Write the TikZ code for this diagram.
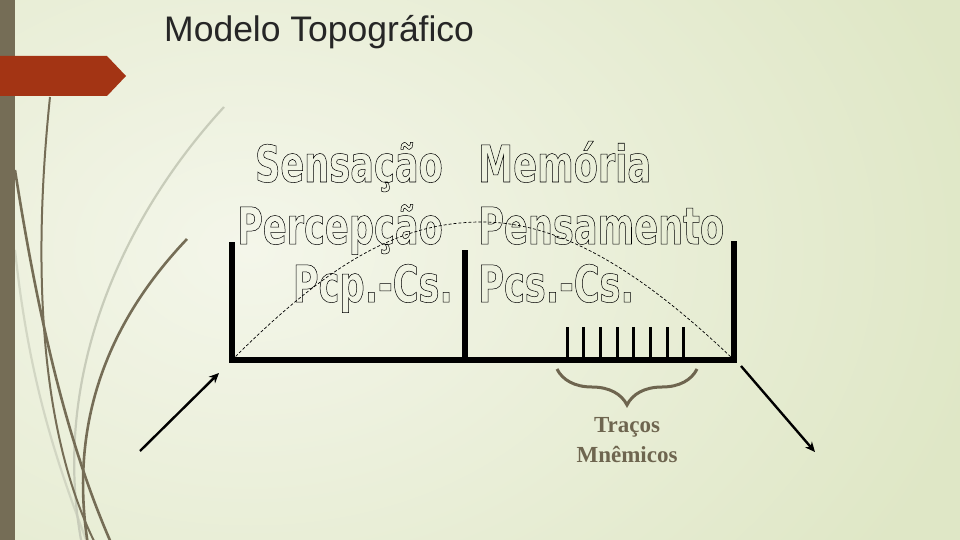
\documentclass[tikz,border=0pt]{standalone}
\usepackage{fontspec}
\setmainfont{Liberation Serif}
\newfontfamily\titlefont{Liberation Sans}
\newfontfamily\blockfont[FakeStretch=0.69]{DejaVu Sans Bold}
\usetikzlibrary{calc,arrows.meta,decorations.pathreplacing}
\definecolor{barbrown}{RGB}{117,109,86}
\definecolor{tabred}{RGB}{163,52,20}
\definecolor{bgin}{RGB}{244,246,234}
\definecolor{bgout}{RGB}{223,231,198}
\definecolor{curvegray}{RGB}{200,204,186}
\definecolor{labelbrown}{RGB}{110,101,79}
\definecolor{titlegray}{RGB}{38,38,38}
\newcommand{\hollow}[1]{\special{pdf:literal direct 0.5 w 1 Tr}#1\special{pdf:literal direct 0 Tr}}
\tikzset{
  blk/.style={inner sep=0, font=\blockfont\fontsize{51}{51}\selectfont},
  wall/.style={line width=5.5, line join=miter},
  tickline/.style={line width=3},
  arc/.style={line width=0.7, dash pattern=on 3 off 2},
  flow/.style={line width=2.4, -{Stealth[length=10, width=9]}},
  memobrace/.style={draw=labelbrown, line width=3, decorate, decoration={brace, amplitude=36}},
  mnem/.style={inner sep=0, anchor=base, text=labelbrown, font=\bfseries\fontsize{23}{23}\selectfont},
  deco/.style={draw=barbrown, line width=2.6},
  decolight/.style={draw=curvegray, line width=2.2}
}
\begin{document}
\begin{tikzpicture}[x=1pt, y=-1pt]
\useasboundingbox (0,0) rectangle (960,540);
\begin{scope}
\clip (0,0) rectangle (960,540);
\shade[inner color=bgin, outer color=bgout] (-500,-300) rectangle (1000,800);
\draw[decolight] (224,107) .. controls (120,220) and (50,380) .. (82,545);
\draw[decolight, draw opacity=0.7] (15,250) .. controls (30,390) and (60,470) .. (88,545);
\draw[deco] (15,170) .. controls (40,330) and (70,450) .. (112,545);
\draw[deco, line width=2] (50,97) .. controls (33,260) and (38,430) .. (96,545);
\draw[deco] (187,239) .. controls (110,320) and (68,420) .. (88,545);
\fill[barbrown] (0,0) rectangle (15,540);
\fill[tabred] (0,56) -- (107,56) -- (126,76) -- (107,96) -- (0,96) -- cycle;
\end{scope}
\node[anchor=base west, inner sep=0, text=titlegray, font=\titlefont\fontsize{35.5}{35.5}\selectfont] (title) at (164,42) {Modelo Topográfico};
\node[blk, anchor=base east] (sens) at (443,182) {\hollow{Sensação}};
\node[blk, anchor=base east] (perc) at (443,244) {\hollow{Percepção}};
\node[blk, anchor=base east] (pcp) at (453,302) {\hollow{Pcp.-Cs.}};
\node[blk, anchor=base west] (mem) at (478,182) {\hollow{Memória}};
\node[blk, anchor=base west] (pens) at (478,244) {\hollow{Pensamento}};
\node[blk, anchor=base west] (pcs) at (478,302) {\hollow{Pcs.-Cs.}};
\coordinate (ltop) at (232,242);
\coordinate (lbot) at (232,360);
\coordinate (rbot) at (734,360);
\coordinate (rtop) at (734,241);
\coordinate (mtop) at (465,250);
\coordinate (mbot) at (465,360);
\coordinate (apex) at (482,222);
\draw[arc] (lbot) .. controls (330,262) and (400,222) .. (apex) .. controls (560,222) and (640,270) .. (rbot);
\draw[wall] (ltop) -- (lbot) -- (rbot) -- (rtop);
\draw[wall] (mtop) -- (mbot);
\foreach \i in {0,...,7}
  \draw[tickline] (567+16.7*\i,327) -- ++(0,33);
\coordinate (bright) at (697,369);
\coordinate (bleft) at (557,369);
\draw[memobrace] (bright) -- (bleft);
\node[mnem] (tr1) at (627,432) {Traços};
\node[mnem] (tr2) at (627,462) {Mnêmicos};
\coordinate (inS) at (140,451);
\coordinate (inE) at (219,373);
\coordinate (outS) at (741,366);
\coordinate (outE) at (815,452);
\draw[flow] (inS) -- (inE);
\draw[flow] (outS) -- (outE);
\end{tikzpicture}
\end{document}
